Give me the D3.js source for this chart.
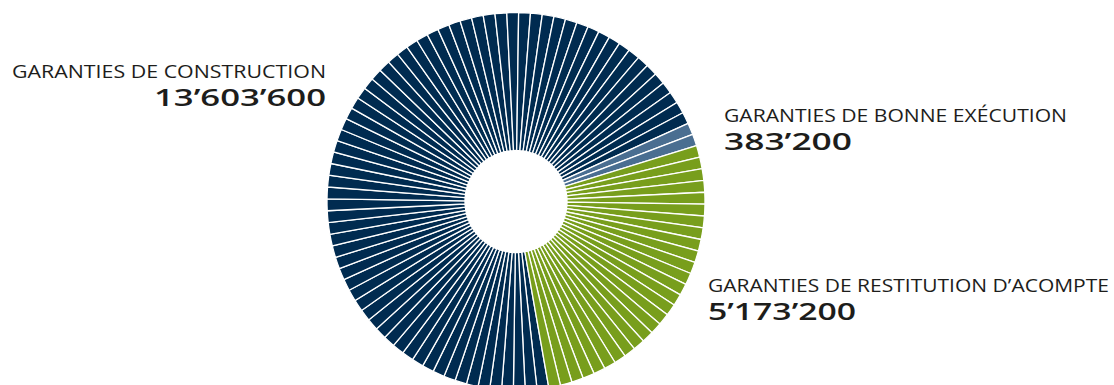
<!DOCTYPE html>
<html>
<head>
<meta charset="utf-8">
<script src="https://cdn.jsdelivr.net/npm/d3@7"></script>
<style>
  html, body { margin: 0; padding: 0; background: #fff; }
  svg { display: block; }
</style>
</head>
<body>
<svg id="chart" width="1114" height="385"></svg>
<script>
// Guarantee categories and their amounts
const categories = [
  "GARANTIES DE CONSTRUCTION",
  "GARANTIES DE BONNE EXÉCUTION",
  "GARANTIES DE RESTITUTION D’ACOMPTE"
];
const amounts = [13603600, 383200, 5173200];
const colors = ["#002b50", "#4a6e91", "#789e1c"];

// Ring is split into 100 equal wedges, each one percent of the total
const SEGMENTS = 100;

const width = 1114, height = 385;
const cx = 516, cy = 201.5;
const outerR = 189, innerR = 51;

const svg = d3.select("#chart");

const total = d3.sum(amounts);
const counts = amounts.map(v => Math.round(v / total * SEGMENTS));

// One entry per wedge, tagged with its category index
const wedges = [];
counts.forEach((n, ci) => { for (let i = 0; i < n; i++) wedges.push({ cat: ci }); });

const start = 170 * Math.PI / 180;
const pie = d3.pie().value(() => 1).sort(null)
  .startAngle(start).endAngle(start + 2 * Math.PI);
const arc = d3.arc().innerRadius(innerR).outerRadius(outerR);

svg.append("g")
  .attr("transform", `translate(${cx},${cy})`)
  .selectAll("path")
  .data(pie(wedges))
  .join("path")
  .attr("d", arc)
  .attr("fill", d => colors[d.data.cat])
  .attr("stroke", "#fff")
  .attr("stroke-width", 1.3)
  .attr("stroke-linejoin", "miter");

// Labels
const fmt = d3.formatLocale({ decimal: ".", thousands: "’", grouping: [3], currency: ["", ""] }).format(",d");

const labelLayout = [
  { x: 326, y: 78,  anchor: "end",   nameW: 314, valY: 106, valW: 172 },
  { x: 724, y: 122, anchor: "start", nameW: 343, valY: 150, valW: 128 },
  { x: 708, y: 292, anchor: "start", nameW: 401, valY: 320, valW: 148 }
];

const labels = svg.append("g");
categories.forEach((name, i) => {
  const L = labelLayout[i];
  labels.append("text")
    .attr("x", L.x).attr("y", L.y)
    .attr("text-anchor", L.anchor)
    .attr("font-family", "'Open Sans', 'DejaVu Sans', sans-serif")
    .attr("font-size", 17.5)
    .attr("font-weight", 400)
    .attr("fill", "#1d1d1b")
    .attr("textLength", L.nameW)
    .attr("lengthAdjust", "spacingAndGlyphs")
    .text(name);
  labels.append("text")
    .attr("x", L.x).attr("y", L.valY)
    .attr("text-anchor", L.anchor)
    .attr("font-family", "'Open Sans', 'DejaVu Sans', sans-serif")
    .attr("font-size", 23.5)
    .attr("font-weight", 600)
    .attr("fill", "#1d1d1b")
    .attr("textLength", L.valW)
    .attr("lengthAdjust", "spacingAndGlyphs")
    .text(fmt(amounts[i]));
});
</script>
</body>
</html>
